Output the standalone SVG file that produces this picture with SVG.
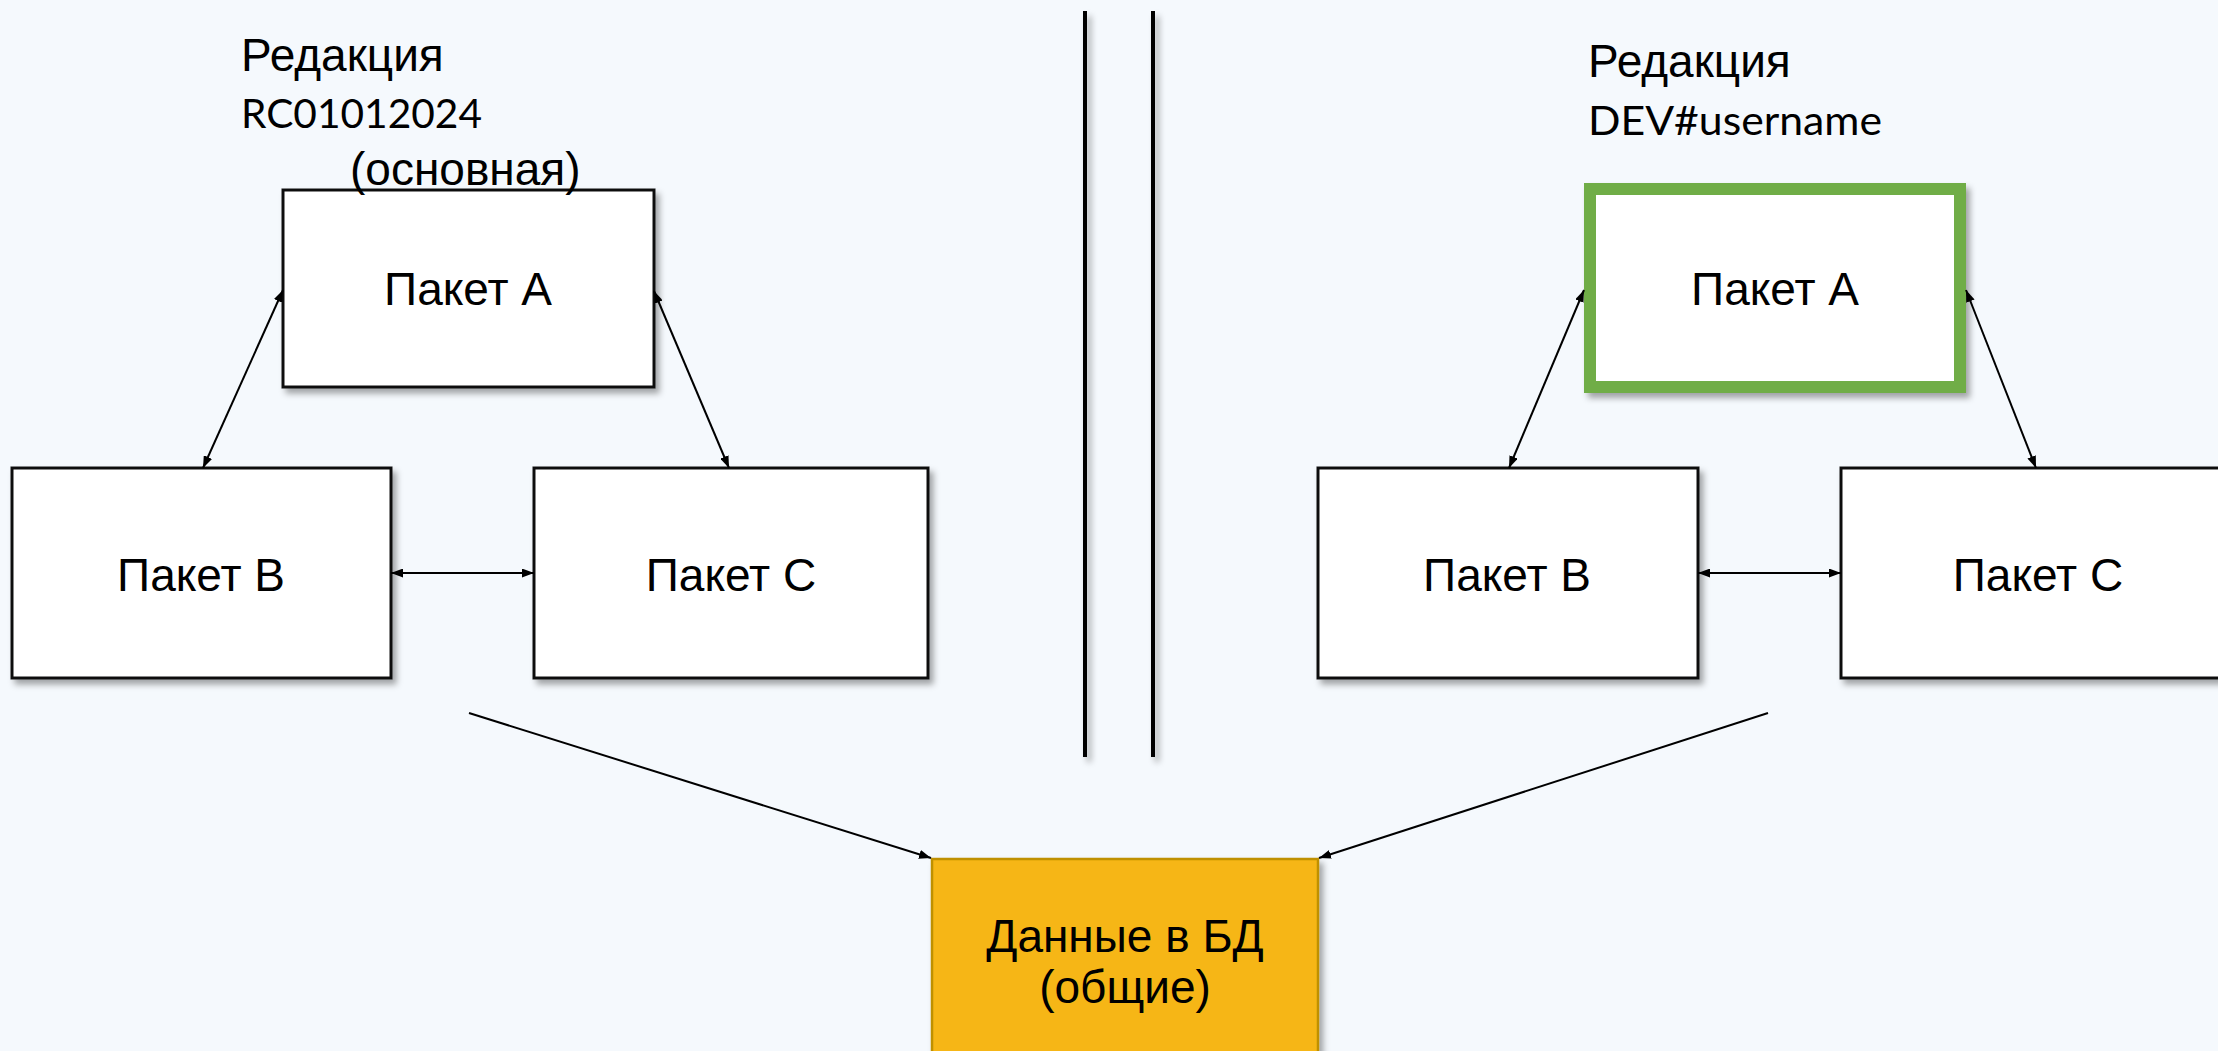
<svg xmlns="http://www.w3.org/2000/svg" width="2218" height="1051" viewBox="0 0 2218 1051">
<style>
.lbl{font-family:"Liberation Sans",Arial,sans-serif;font-size:46px;fill:#000}
.sub{font-family:Lato,"Open Sans",sans-serif;font-size:41px;fill:#000}
.box{fill:#fff;stroke:#111;stroke-width:3}
.con{stroke:#000;stroke-width:2;fill:none}
.sep{stroke:#000;stroke-width:4}
</style>
<defs>
<filter id="sh" x="-10%" y="-10%" width="130%" height="130%">
<feDropShadow dx="4" dy="5" stdDeviation="3" flood-color="#000" flood-opacity="0.35"/>
</filter>
<marker id="ah" viewBox="0 0 12 9" refX="12" refY="4.5" markerWidth="12" markerHeight="9" markerUnits="userSpaceOnUse" orient="auto-start-reverse">
<path d="M0,0 L12,4.5 L0,9 Z" fill="#000"/>
</marker>
</defs>
<rect width="2218" height="1051" fill="#F5F9FD"/>

<g id="separators" filter="url(#sh)">
<line class="sep" x1="1085" y1="11" x2="1085" y2="757"/>
<line class="sep" x1="1153" y1="11" x2="1153" y2="757"/>
</g>

<g id="titles">
<text class="lbl" x="241" y="71">Редакция</text>
<text class="sub" x="241" y="128" textLength="241" lengthAdjust="spacingAndGlyphs">RC01012024</text>
<text class="lbl" x="1588" y="77">Редакция</text>
<text class="sub" x="1588" y="135" textLength="294" lengthAdjust="spacingAndGlyphs">DEV#username</text>
</g>

<g id="node-a-left">
<rect class="box" x="283" y="190" width="371" height="197" filter="url(#sh)"/>
<text class="lbl" x="468" y="305" text-anchor="middle">Пакет А</text>
</g>
<g id="label-main">
<text class="lbl" x="350" y="185">(основная)</text>
</g>
<g id="node-b-left">
<rect class="box" x="12" y="468" width="379" height="210" filter="url(#sh)"/>
<text class="lbl" x="201" y="591" text-anchor="middle">Пакет В</text>
</g>
<g id="node-c-left">
<rect class="box" x="534" y="468" width="394" height="210" filter="url(#sh)"/>
<text class="lbl" x="731" y="591" text-anchor="middle">Пакет С</text>
</g>

<g id="node-a-right">
<rect x="1590" y="189" width="370" height="198" fill="#fff" stroke="#70AD47" stroke-width="12" filter="url(#sh)"/>
<text class="lbl" x="1775" y="305" text-anchor="middle">Пакет А</text>
</g>
<g id="node-b-right">
<rect class="box" x="1318" y="468" width="380" height="210" filter="url(#sh)"/>
<text class="lbl" x="1507" y="591" text-anchor="middle">Пакет В</text>
</g>
<g id="node-c-right">
<rect class="box" x="1841" y="468" width="400" height="210" filter="url(#sh)"/>
<text class="lbl" x="2038" y="591" text-anchor="middle">Пакет С</text>
</g>

<g id="node-db">
<rect x="932" y="859" width="386" height="220" fill="#F6B612" stroke="#BF9000" stroke-width="2.5" filter="url(#sh)"/>
<text class="lbl" x="1125" y="952" text-anchor="middle">Данные в БД</text>
<text class="lbl" x="1125" y="1003" text-anchor="middle">(общие)</text>
</g>

<g id="connectors">
<line class="con" x1="283" y1="290" x2="203" y2="468" marker-start="url(#ah)" marker-end="url(#ah)"/>
<line class="con" x1="654" y1="291" x2="729" y2="468" marker-start="url(#ah)" marker-end="url(#ah)"/>
<line class="con" x1="391" y1="573" x2="534" y2="573" marker-start="url(#ah)" marker-end="url(#ah)"/>
<line class="con" x1="1584" y1="290" x2="1509" y2="468" marker-start="url(#ah)" marker-end="url(#ah)"/>
<line class="con" x1="1966" y1="290" x2="2036" y2="468" marker-start="url(#ah)" marker-end="url(#ah)"/>
<line class="con" x1="1698" y1="573" x2="1841" y2="573" marker-start="url(#ah)" marker-end="url(#ah)"/>
<line class="con" x1="469" y1="713" x2="931" y2="858" marker-end="url(#ah)"/>
<line class="con" x1="1768" y1="713" x2="1319" y2="858" marker-end="url(#ah)"/>
</g>
</svg>
